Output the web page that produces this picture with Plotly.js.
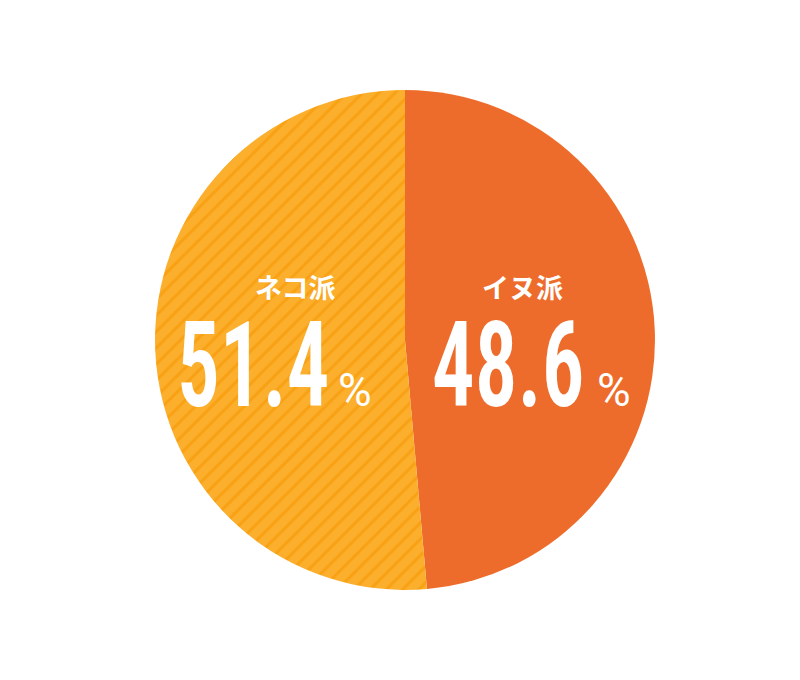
<!DOCTYPE html>
<html><head><meta charset="utf-8">
<script src="https://cdn.plot.ly/plotly-3.0.1.min.js"></script>
<style>body{margin:0;background:#fff}#c{width:800px;height:680px}</style>
</head><body><div id="c"></div>
<script>
const labels = ["イヌ派", "ネコ派"];
const values = [48.6, 51.4];
const colors = ["#EE6C2B", "#FCAF2D"];
const hatchColor = "#F9A114";
const shapes = ["", "/"];

const numFont = "Roboto Condensed, DejaVu Sans Condensed, sans-serif";
const pctFont = "Roboto, sans-serif";
const jpFont = "Noto Sans CJK JP, sans-serif";
// label positions (paper fractions): name, number (left edge), percent (left edge)
const pos = [
  {lx: 0.6525, ly: 0.578, nx: 0.538, px: 0.744},
  {lx: 0.369, ly: 0.578, nx: 0.219, px: 0.420}
];
const numBaseY = 0.462;

const annotations = [];
labels.forEach((lab, i) => {
  annotations.push({
    text: "<b>" + lab + "</b>", x: pos[i].lx, y: pos[i].ly, xref: "paper", yref: "paper",
    showarrow: false, font: {family: jpFont, size: 27, color: "#ffffff"}, xanchor: "center", yanchor: "middle"
  });
  annotations.push({
    name: "num", text: values[i].toFixed(1), x: pos[i].nx, y: numBaseY, xref: "paper", yref: "paper",
    showarrow: false, font: {family: numFont, size: 118, weight: 600, color: "#ffffff"}, xanchor: "left", yanchor: "middle"
  });
  annotations.push({
    text: "%", x: pos[i].px, y: numBaseY - 0.036, xref: "paper", yref: "paper",
    showarrow: false, font: {family: pctFont, size: 46, color: "#ffffff"}, xanchor: "left", yanchor: "middle"
  });
});

const data = [{
  type: "pie",
  labels: labels,
  values: values,
  sort: false,
  direction: "clockwise",
  rotation: 0,
  textinfo: "none",
  hoverinfo: "none",
  marker: {
    colors: colors,
    line: {width: 0},
    pattern: {shape: shapes, fgcolor: [hatchColor, hatchColor], bgcolor: colors, size: 11.5, solidity: 0.26, fillmode: "replace"}
  },
  domain: {x: [0.19375, 0.81875], y: [0.1324, 0.8676]},
  showlegend: false
}];

const layout = {
  width: 800, height: 680,
  margin: {l: 0, r: 0, t: 0, b: 0},
  paper_bgcolor: "#ffffff",
  annotations: annotations,
  showlegend: false
};
Plotly.newPlot("c", data, layout, {displayModeBar: false, staticPlot: true}).then(gd => {
  // condense the big numbers horizontally (anchored at their left edge)
  gd.querySelectorAll(".annotation").forEach(g => {
    const idx = +g.getAttribute("data-index");
    if (layout.annotations[idx].name !== "num") return;
    const t = g.querySelector("text");
    const bb = t.getBBox();
    const sx = 0.72;
    t.setAttribute("transform", `translate(${bb.x},0) scale(${sx},1) translate(${-bb.x},0)`);
  });
});
</script></body></html>
